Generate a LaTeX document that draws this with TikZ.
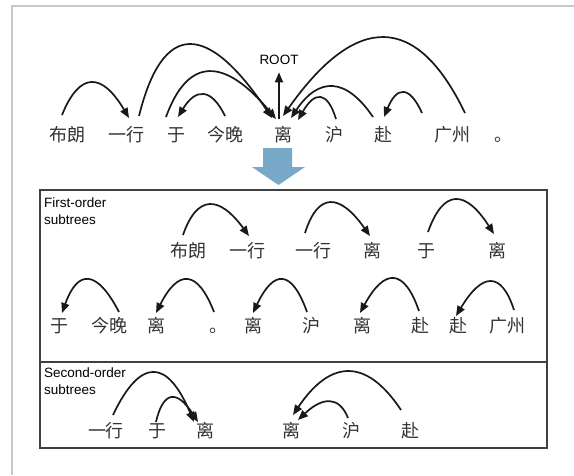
\documentclass[tikz,border=0pt]{standalone}
\usepackage{fontspec}
\newfontfamily\cjkf{Noto Sans CJK SC}
\newfontfamily\labf{Liberation Sans}
\usetikzlibrary{arrows.meta,calc}
\definecolor{arrowblue}{HTML}{78A9C9}
\definecolor{framegray}{HTML}{C8C8C8}
\tikzset{
  wd/.style={font=\cjkf\fontsize{18}{20}\selectfont, inner sep=0pt, anchor=base, text=black!80},
  lab/.style={font=\labf\fontsize{13.5}{16.5}\selectfont, inner sep=0pt, align=left, anchor=north west},
  dep/.style={line width=1.7pt, draw=black!90, -{Triangle[length=10pt,width=8pt]}},
  boxline/.style={draw=black!75, line width=1.2pt},
}
% arc from node #1 (offset #2 from its base) through peak #3 to node #4 (offset #5)
\newcommand\deparc[5]{%
  \coordinate (ds) at ([shift={#2}]#1.base);
  \coordinate (dp) at #3;
  \coordinate (de) at ([shift={#5}]#4.base);
  \path let \p1=(ds), \p2=(dp), \p3=(de) in
    coordinate (dq) at ({(4*\x2-\x1-\x3)/2},{(4*\y2-\y1-\y3)/2});
  \draw[dep] (ds) .. controls ($(ds)!0.6667!(dq)$) and ($(de)!0.6667!(dq)$) .. (de);}
\begin{document}
\begin{tikzpicture}[x=1pt,y=-1pt]
\useasboundingbox (0,0) rectangle (574,475);
% outer frame
\draw[framegray, line width=2pt] (11.5,475) -- (11.5,6) -- (574,6);

% ---------- top sentence ----------
\node[wd] (t1) at (67,141) {布朗};
\node[wd] (t2) at (126,141) {一行};
\node[wd] (t3) at (176,141) {于};
\node[wd] (t4) at (225,141) {今晚};
\node[wd] (t5) at (283,141) {离};
\node[wd] (t6) at (334,141) {沪};
\node[wd] (t7) at (383,141) {赴};
\node[wd] (t8) at (452,141) {广州};
\node[wd] (t9) at (503,141) {。};
\node[lab, anchor=base] (root) at (279,64) {ROOT};

\deparc{t1}{(-5,-26)}{(92,83)}{t2}{(3,-23)}
\deparc{t2}{(13,-25)}{(190,45)}{t5}{(-11,-23)}
\deparc{t3}{(-10,-24)}{(210,72)}{t5}{(-7,-22)}
\deparc{t4}{(0,-25)}{(203,95)}{t3}{(2,-24)}
\deparc{t8}{(13,-28)}{(383,38)}{t5}{(0,-25)}
\deparc{t7}{(-10,-24)}{(332,87)}{t5}{(8,-23)}
\deparc{t6}{(2,-22)}{(320,98)}{t5}{(15,-21)}
\deparc{t8}{(-30,-28)}{(403,93)}{t7}{(1,-24)}
\draw[dep] ([shift={(-4,-22)}]t5.base) -- ([yshift=-8pt]root.south);

% ---------- blue arrow ----------
\fill[arrowblue] (263,148) -- (292,148) -- (292,167) -- (305,167) -- (278.5,185)
  -- (252,167) -- (263,167) -- cycle;

% ---------- box ----------
\draw[boxline] (40,190) rectangle (547,448);
\draw[boxline] (40,362) -- (547,362);

\node[lab] (l1) at (44,198) {First-order\\subtrees};
\node[lab] (l2) at (44,368) {Second-order\\subtrees};

% first-order row 1
\node[wd] (a1) at (188,257) {布朗};
\node[wd] (a2) at (247,257) {一行};
\node[wd] (a3) at (313,257) {一行};
\node[wd] (a4) at (372,257) {离};
\node[wd] (a5) at (426,257) {于};
\node[wd] (a6) at (497,257) {离};
\deparc{a1}{(-5,-22)}{(210,205)}{a2}{(2,-21)}
\deparc{a3}{(-8,-24)}{(331,203)}{a4}{(-2,-21)}
\deparc{a5}{(2,-25)}{(456,200)}{a6}{(-3,-23)}

% first-order row 2
\node[wd] (b1) at (59,332) {于};
\node[wd] (b2) at (110,332) {今晚};
\node[wd] (b3) at (156,332) {离};
\node[wd] (b4) at (218,332) {。};
\node[wd] (b5) at (253,332) {离};
\node[wd] (b6) at (311,332) {沪};
\node[wd] (b7) at (362,332) {离};
\node[wd] (b8) at (420,332) {赴};
\node[wd] (b9) at (458,332) {赴};
\node[wd] (b10) at (507,332) {广州};
\deparc{b2}{(9,-20)}{(88,280)}{b1}{(3,-19)}
\deparc{b4}{(-4,-20)}{(187,280)}{b3}{(0,-19)}
\deparc{b6}{(-4,-20)}{(282,280)}{b5}{(0,-19)}
\deparc{b8}{(-1,-21)}{(393,279)}{b7}{(-2,-19)}
\deparc{b10}{(7,-22)}{(490,282)}{b9}{(-2,-16)}

% second-order
\node[wd] (c1) at (106,437) {一行};
\node[wd] (c2) at (157,437) {于};
\node[wd] (c3) at (205,437) {离};
\node[wd] (c4) at (291,437) {离};
\node[wd] (c5) at (351,437) {沪};
\node[wd] (c6) at (410,437) {赴};
\deparc{c1}{(7,-22)}{(154,373)}{c3}{(-11,-15)}
\deparc{c2}{(-1,-15)}{(172,398)}{c3}{(-7,-15)}
\deparc{c6}{(-9,-27)}{(348,372)}{c4}{(2,-22)}
\deparc{c5}{(-3,-19)}{(329,402)}{c4}{(7,-17)}
\end{tikzpicture}
\end{document}
